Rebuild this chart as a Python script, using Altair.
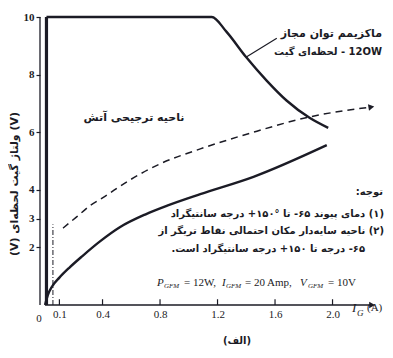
import altair as alt
import pandas as pd

# ---------------- data ----------------
x_tick_values = [0.1, 0.4, 0.8, 1.2, 1.6, 2.0]
y_tick_values = [2, 3, 4, 6, 8, 10]

# maximum permissible instantaneous gate power (12 W) boundary
boundary_I = [0.01, 0.01]
boundary_V = [0, 10]
max_power_I = [0.01, 1.16, 1.26, 1.40, 1.54, 1.68, 1.84, 1.97]
max_power_V = [10, 10, 9.5, 8.6, 7.8, 7.1, 6.5, 6.15]

# lower solid curve
solid_I = [0.0, 0.02, 0.05, 0.1, 0.17, 0.26, 0.38, 0.52, 0.7, 0.85, 1.08, 1.45, 1.96]
solid_V = [0.0, 0.35, 0.65, 0.95, 1.3, 1.7, 2.2, 2.7, 3.15, 3.45, 3.85, 4.45, 5.55]

# dashed curve with arrow
dashed_I = [0.125, 0.22, 0.31, 0.40, 0.59, 0.80, 1.08, 1.43, 1.84, 2.27]
dashed_V = [2.67, 3.06, 3.44, 3.72, 4.34, 4.90, 5.42, 5.97, 6.53, 6.875]

# dash-dot vertical marker near 0.1 A
marker_I = [0.055, 0.055]
marker_V = [0, 2.8]

# leader line to the 120 W label
leader_I = [1.403, 1.612]
leader_V = [8.62, 9.26]

x_axis_end = 2.275

INK = "#1b1b25"
SERIF = "Liberation Serif"
FA = "DejaVu Sans"
RLE, PDF, LRM = "\u202b", "\u202c", "\u200e"

xs = alt.Scale(domain=[-0.035, 2.365], nice=False, zero=False)
ys = alt.Scale(domain=[0, 10.3125], nice=False, zero=False)


def line_layer(I, V, width, dash=None):
    df = pd.DataFrame({"I": I, "V": V, "o": list(range(len(I)))})
    kw = dict(color=INK, strokeWidth=width, interpolate="monotone")
    if dash:
        kw["strokeDash"] = dash
    return alt.Chart(df).mark_line(**kw).encode(
        x=alt.X("I:Q", scale=xs,
                axis=alt.Axis(values=x_tick_values, format=".1f", domain=False,
                              ticks=False, grid=False, title=None,
                              labelFont=SERIF, labelFontSize=11, labelColor=INK,
                              labelPadding=3)),
        y=alt.Y("V:Q", scale=ys,
                axis=alt.Axis(values=y_tick_values, domain=False, ticks=True,
                              tickSize=4, tickColor=INK, tickWidth=1.2, grid=False,
                              title=None, labelFont=SERIF, labelFontSize=11,
                              labelFontWeight="bold", labelColor=INK, labelPadding=2)),
        order="o:Q",
    )


def label(text, px, py, size=11, font=FA, weight="bold", align="center",
          style="normal", angle=0, baseline="middle"):
    return alt.Chart(pd.DataFrame({"t": [text]})).mark_text(
        font=font, fontSize=size, fontWeight=weight, align=align,
        fontStyle=style, angle=angle, baseline=baseline, color=INK,
    ).encode(text="t:N", x=alt.value(px), y=alt.value(py))


# axes lines
yaxis = alt.Chart(pd.DataFrame({"a": [0], "b": [10]})).mark_rule(
    color=INK, strokeWidth=1.3).encode(
    x=alt.value(0), y=alt.Y("a:Q", scale=ys), y2="b:Q")
xaxis = alt.Chart(pd.DataFrame({"a": [0], "b": [x_axis_end]})).mark_rule(
    color=INK, strokeWidth=1.3).encode(
    x=alt.X("a:Q", scale=xs), x2="b:Q", y=alt.datum(0, scale=ys))
xarrow = alt.Chart(pd.DataFrame({"I": [x_axis_end], "V": [0]})).mark_point(
    shape="triangle-right", filled=True, size=45, color=INK, opacity=1).encode(
    x=alt.X("I:Q", scale=xs), y=alt.Y("V:Q", scale=ys))
xticks = alt.Chart(pd.DataFrame({"I": x_tick_values})).mark_rule(
    color=INK, strokeWidth=1.2).encode(
    x=alt.X("I:Q", scale=xs), y=alt.datum(0, scale=ys), y2=alt.datum(0.2))

# curves
boundary = line_layer(boundary_I, boundary_V, 3.2)
maxp = line_layer(max_power_I, max_power_V, 2.4)
solid = line_layer(solid_I, solid_V, 2.4)
dashed = line_layer(dashed_I, dashed_V, 1.5, dash=[7, 5])
marker = line_layer(marker_I, marker_V, 1.0, dash=[5, 2, 1, 2])
leader = line_layer(leader_I, leader_V, 1.2)
darrow = alt.Chart(pd.DataFrame({"I": [dashed_I[-1]], "V": [dashed_V[-1]]})).mark_point(
    shape="triangle-right", filled=True, size=45, color=INK, opacity=1, angle=351).encode(
    x=alt.X("I:Q", scale=xs), y=alt.Y("V:Q", scale=ys))

# texts
texts = [
    label(RLE + "ناحیه ترجیحی آتش" + PDF, 94, 110, size=11),
    label(RLE + "ماکزیمم توان مجاز" + PDF, 342, 26, size=11, align="right"),
    label("لحظه‌ای گیت - " + LRM + "12OW", 342, 44, size=10, align="right"),
    label(RLE + "توجه:" + PDF, 343, 184, size=10, align="right"),
    label(RLE + "(۱) دمای پیوند ۶۵- تا °۱۵۰+ درجه سانتیگراد" + PDF, 344, 206, size=10, align="right"),
    label(RLE + "(۲) ناحیه سایه‌دار مکان احتمالی نقاط تریگر از" + PDF, 344, 223, size=10, align="right"),
    label(RLE + "۶۵- درجه تا ۱۵۰+ درجه سانتیگراد است." + PDF, 325, 241, size=10, align="right"),
    label("(V) ولتاژ گیت لحظه‌ای (V)", -25, 176, size=11, angle=270),
    label("(الف)", 197, 333, size=10),
    label("0", -1, 311, font=SERIF, weight="normal"),
    label("I", 312, 300, size=13, font=SERIF, weight="normal", style="italic", align="left"),
    label("G", 317, 305, size=9, font=SERIF, weight="normal", style="italic", align="left"),
    label("(A)", 327, 300, size=11, font=SERIF, weight="normal", align="left"),
]
p_y = 275
p_pieces = [
    ("P", 117, 11, "italic", 0), ("GFM", 124, 7, "italic", 3), ("= 12W,", 144, 11, "normal", 0),
    ("I", 182, 11, "italic", 0), ("GFM", 186, 7, "italic", 3), ("= 20 Amp,", 205, 11, "normal", 0),
    ("V", 260, 11, "italic", 0), ("GFM", 268, 7, "italic", 3), ("= 10V", 288, 11, "normal", 0),
]
for t, px, sz, st, dy in p_pieces:
    texts.append(label(t, px, p_y + dy, size=sz, font=SERIF, weight="normal",
                       style=st, align="left"))

chart = alt.layer(
    boundary, maxp, solid, dashed, marker, leader, darrow,
    yaxis, xaxis, xarrow, xticks, *texts
).properties(
    width=345, height=297,
    autosize=alt.AutoSizeParams(type="none"),
    padding={"left": 32, "top": 0, "right": 0, "bottom": 41},
    background="white",
).configure_view(stroke=None)

chart.save("out.html", embed_options={"renderer": "svg", "actions": False})
